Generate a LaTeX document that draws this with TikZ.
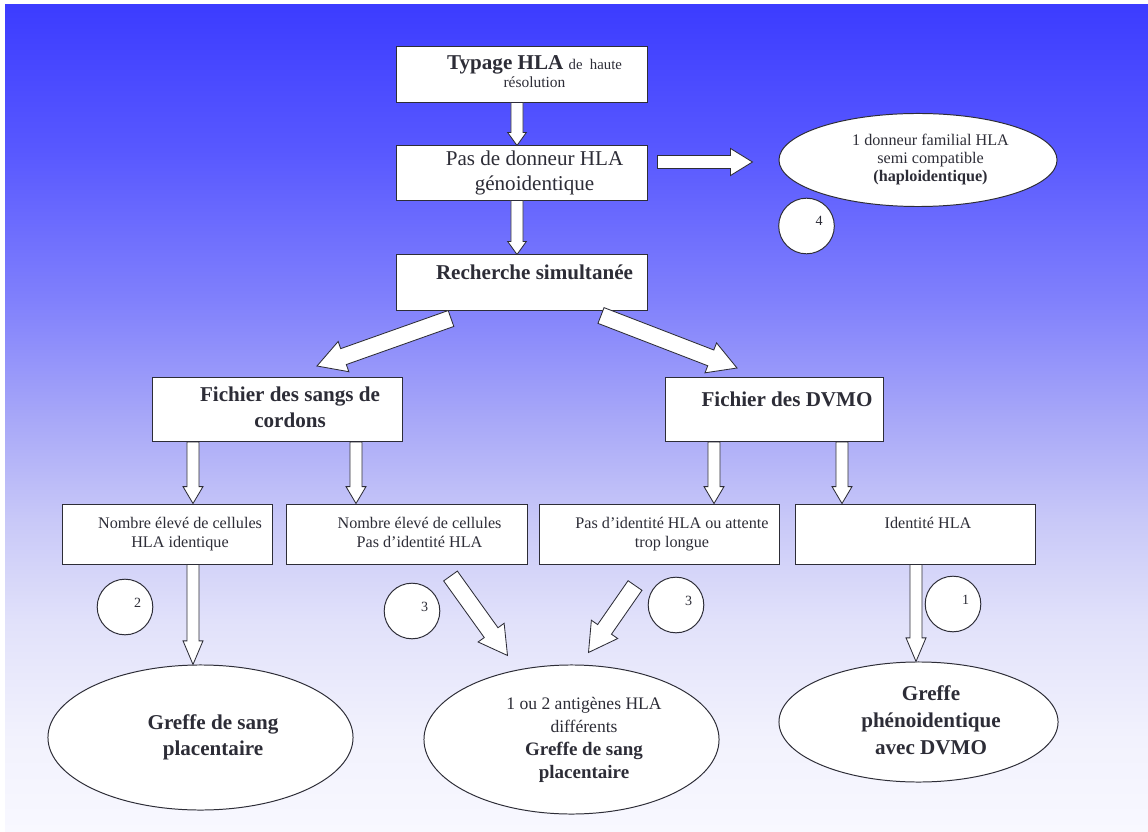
\documentclass[tikz,border=0pt]{standalone}
\usepackage{fontspec}
\setmainfont{Liberation Serif}
\usetikzlibrary{calc, shapes.geometric}

\definecolor{ink}{RGB}{45,45,55}
\definecolor{bgA}{RGB}{60,60,255}
\definecolor{bgB}{RGB}{88,88,255}
\definecolor{bgC}{RGB}{128,128,252}
\definecolor{bgD}{RGB}{168,168,248}
\definecolor{bgE}{RGB}{200,200,248}
\definecolor{bgF}{RGB}{225,225,250}
\definecolor{bgG}{RGB}{242,242,253}
\definecolor{bgH}{RGB}{248,248,255}

\pgfdeclareverticalshading{bgfade}{100bp}{color(0bp)=(bgH); color(25bp)=(bgH);
  color(30.6bp)=(bgG); color(37.8bp)=(bgF); color(43.9bp)=(bgE); color(49.9bp)=(bgD);
  color(57.2bp)=(bgC); color(66.2bp)=(bgB); color(75bp)=(bgA); color(100bp)=(bgA)}

% text block, pushed a little to the right as in the slide
\newcommand{\tx}[1]{\hspace*{17.8pt}\begin{tabular}{@{}c@{}}#1\end{tabular}}

% block arrow: from, to, half shaft, half head, head length
\newcommand{\fatarrow}[5]{%
  \coordinate (fa-s) at #1;
  \coordinate (fa-e) at #2;
  \coordinate (fa-h) at ($(fa-e)!#5!(fa-s)$);
  \draw[fat] ($(fa-s)!#3!90:(fa-e)$) -- ($(fa-h)!#3!90:(fa-e)$) -- ($(fa-h)!#4!90:(fa-e)$)
    -- (fa-e) -- ($(fa-h)!#4!-90:(fa-e)$) -- ($(fa-h)!#3!-90:(fa-e)$) -- ($(fa-s)!#3!-90:(fa-e)$) -- cycle;}

\begin{document}
\begin{tikzpicture}[x=0.025cm, y=-0.025cm,
  box/.style 2 args={rectangle, draw=ink, fill=white, line width=0.7pt, inner sep=0pt, text=ink,
    minimum width=#1cm, minimum height=#2cm},
  oval/.style 2 args={ellipse, draw=ink, fill=white, line width=0.7pt, inner sep=0pt, text=ink,
    minimum width=#1cm, minimum height=#2cm},
  num/.style={circle, draw=ink, fill=white, line width=0.7pt, inner sep=0pt, text=ink,
    minimum size=1.39cm, font=\fontsize{10}{12}\selectfont},
  fat/.style={draw=ink, fill=white, line width=0.6pt, line join=miter},
  big/.style={font=\fontsize{15}{18}\selectfont},
  bigb/.style={font=\fontsize{15}{18}\selectfont\bfseries},
  small/.style={font=\fontsize{11.5}{13.8}\selectfont}]

\fill[white] (0,0) rectangle (1148,832);
\shade[shading=bgfade] (5,5) rectangle (1148,832);

% top column
\node[box={6.25}{1.375}, font=\fontsize{15}{13}\selectfont] (typage) at (522,74.5)
  {\tx{\textbf{Typage HLA} {\fontsize{10.5}{12}\selectfont de\ \ haute}\\{\fontsize{11}{12}\selectfont résolution}}};
\node[box={6.25}{1.35}, big] (donneur) at (522,173) {\tx{Pas de donneur HLA\\génoidentique}};
\node[box={6.25}{1.375}, bigb] (rech) at (522,282.5) {\tx{Recherche simultanée\\[-6pt]~}};

\node[oval={6.95}{2.325}, font=\fontsize{11.5}{13}\selectfont] (haplo) at (918,160)
  {\tx{1 donneur familial HLA\\semi compatible\\\textbf{(haploidentique)}}};
\node[num] (n4) at (806.5,226) {\tx{\raisebox{3pt}{4}}};

% registries
\node[box={6.225}{1.6}, bigb] (sangs) at (277.5,409.5) {\tx{Fichier des sangs de\\cordons}};
\node[box={5.425}{1.6}, bigb] (dvmo) at (774.5,409.5) {\tx{Fichier des DVMO\\[-6pt]~}};

% cases
\node[box={5.225}{1.5}, small] (hlaid) at (167.5,534) {\tx{Nombre élevé de cellules\\HLA identique}};
\node[box={6}{1.5}, small] (nonid) at (407,534) {\tx{Nombre élevé de cellules\\Pas d’identité HLA}};
\node[box={5.975}{1.5}, small] (attente) at (659.5,534) {\tx{Pas d’identité HLA ou attente\\trop longue}};
\node[box={5.975}{1.5}, small] (ident) at (915.5,534) {\tx{Identité HLA\\~}};

\node[num] (n2) at (125,607) {\tx{\raisebox{3pt}{2}}};
\node[num] (n3a) at (412,611) {\tx{\raisebox{3pt}{3}}};
\node[num] (n3b) at (676,605) {\tx{\raisebox{3pt}{3}}};
\node[num] (n1) at (953,604) {\tx{\raisebox{3pt}{1}}};

% grafts
\node[oval={7.625}{3.625}, bigb] (placenta) at (200.5,737.5) {\tx{Greffe de sang\\placentaire}};
\node[oval={7.375}{3.725}, font=\fontsize{12.5}{16.5}\selectfont] (antigenes) at (571.5,739.5)
  {\tx{1 ou 2 antigènes HLA\\différents\\\textbf{\fontsize{13.5}{16}\selectfont Greffe de sang}\\\textbf{\fontsize{13.5}{16}\selectfont placentaire}}};
\node[oval={6.975}{3.0}, font=\fontsize{15}{19}\selectfont\bfseries] (pheno) at (918.5,722)
  {\tx{Greffe\\phénoidentique\\avec DVMO}};

% arrows
\coordinate (t1) at ($(typage.south)+(-5,0)$);
\coordinate (t2) at (t1 |- donneur.north);
\fatarrow{(t1)}{(t2)}{4.3pt}{6.6pt}{9.2pt}
\coordinate (d1) at ($(donneur.south)+(-5,0)$);
\coordinate (d2) at (d1 |- rech.north);
\fatarrow{(d1)}{(d2)}{4.3pt}{6.6pt}{9.2pt}
\coordinate (h1) at ($(donneur.east)+(10,-11)$);
\coordinate (h2) at ($(h1 -| haplo.west)+(-26,0)$);
\fatarrow{(h1)}{(h2)}{4.6pt}{9.6pt}{15.6pt}

\coordinate (l1) at ($(rech.south)+(-71,8)$);
\coordinate (l2) at ($(sangs.north)+(39.5,-11)$);
\fatarrow{(l1)}{(l2)}{6pt}{11.4pt}{20pt}
\coordinate (r1) at ($(rech.south)+(79,5)$);
\coordinate (r2) at ($(dvmo.north)+(-37.5,-9)$);
\fatarrow{(r1)}{(r2)}{6pt}{11.4pt}{20pt}

\coordinate (s1) at ($(sangs.south)+(-84.5,0)$);
\coordinate (s2) at (s1 |- hlaid.north);
\fatarrow{(s1)}{(s2)}{4.3pt}{7.1pt}{12pt}
\coordinate (s3) at ($(sangs.south)+(78.5,0)$);
\coordinate (s4) at (s3 |- nonid.north);
\fatarrow{(s3)}{(s4)}{4.3pt}{7.1pt}{12pt}
\coordinate (m1) at ($(dvmo.south)+(-60.5,0)$);
\coordinate (m2) at (m1 |- attente.north);
\fatarrow{(m1)}{(m2)}{4.3pt}{7.1pt}{12pt}
\coordinate (m3) at ($(dvmo.south)+(67.5,0)$);
\coordinate (m4) at (m3 |- ident.north);
\fatarrow{(m3)}{(m4)}{4.3pt}{7.1pt}{12pt}

\coordinate (a1) at ($(hlaid.south)+(25.5,0)$);
\coordinate (a2) at (a1 |- placenta.north);
\fatarrow{(a1)}{(a2)}{4.3pt}{7.1pt}{16.8pt}
\coordinate (b1) at ($(nonid.south)+(43.5,11.5)$);
\coordinate (b2) at ($(antigenes.north)+(-64,-9)$);
\fatarrow{(b1)}{(b2)}{6pt}{11.4pt}{20pt}
\coordinate (c1) at ($(attente.south)+(-24.5,21)$);
\coordinate (c2) at ($(antigenes.north)+(17,-12)$);
\fatarrow{(c1)}{(c2)}{6pt}{11.4pt}{20pt}
\coordinate (e1) at ($(ident.south)+(0.5,0)$);
\coordinate (e2) at (e1 |- pheno.north);
\fatarrow{(e1)}{(e2)}{4.3pt}{7.1pt}{16.8pt}

\end{tikzpicture}
\end{document}
